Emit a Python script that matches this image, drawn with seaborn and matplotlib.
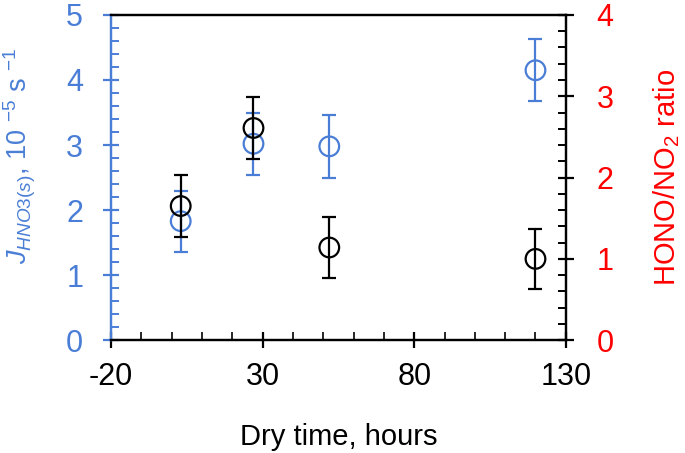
import numpy as np
import pandas as pd
import seaborn as sns
import matplotlib.pyplot as plt
from matplotlib.ticker import MultipleLocator

# datos
dry_time = [3, 27, 52, 120]
j_hno3 = [1.83, 3.02, 2.98, 4.15]
j_err = [0.47, 0.48, 0.48, 0.48]
hono_ratio = [1.65, 2.61, 1.14, 1.0]
ratio_err = [0.38, 0.38, 0.37, 0.37]

azul = "#4a7ed6"
rojo = "#ff0000"

sns.set_style("ticks")
plt.rcParams['font.family'] = ['Liberation Sans', 'DejaVu Sans']
plt.rcParams['mathtext.fontset'] = 'custom'
plt.rcParams['mathtext.rm'] = 'Liberation Sans'
plt.rcParams['mathtext.it'] = 'Liberation Sans:italic'
plt.rcParams['axes.unicode_minus'] = False
plt.rcParams['text.color'] = 'black'
plt.rcParams['axes.labelcolor'] = 'black'

df = pd.DataFrame({"t": dry_time, "j": j_hno3, "r": hono_ratio})

fig = plt.figure(figsize=(6.85, 4.53), dpi=100)
ax = fig.add_axes([0.162, 0.249, 0.664, 0.718])
ax2 = ax.twinx()

ax.errorbar(df["t"], df["j"], yerr=j_err, fmt="none", ecolor=azul, elinewidth=1.6, capsize=5, capthick=1.6)
sns.scatterplot(data=df, x="t", y="j", ax=ax, marker="o", s=200, facecolors="none", edgecolor=azul, linewidth=1.6, zorder=3)

ax2.errorbar(df["t"], df["r"], yerr=ratio_err, fmt="none", ecolor="black", elinewidth=1.6, capsize=5, capthick=1.6)
sns.scatterplot(data=df, x="t", y="r", ax=ax2, marker="o", s=200, facecolors="none", edgecolor="black", linewidth=1.6, zorder=3)

ax.set_xlim(-20, 130)
ax.set_ylim(0, 5)
ax2.set_ylim(0, 4)
ax.set_xticks([-20, 30, 80, 130])
ax.xaxis.set_minor_locator(MultipleLocator(10))
ax.set_yticks([0, 1, 2, 3, 4, 5])
ax.yaxis.set_minor_locator(MultipleLocator(0.2))
ax2.set_yticks([0, 1, 2, 3, 4])
ax2.yaxis.set_minor_locator(MultipleLocator(0.2))

for a in (ax, ax2):
    for s in a.spines.values():
        s.set_linewidth(1.6)
        s.set_color("black")
ax.spines["left"].set_color(azul)
ax2.spines["left"].set_color(azul)

ax.tick_params(axis="x", which="major", direction="inout", length=12, width=1.6, labelsize=22, pad=10, colors="black")
ax.tick_params(axis="x", which="minor", direction="in", length=6, width=1.4)
ax.tick_params(axis="y", which="major", direction="inout", length=12, width=1.6, labelsize=22, pad=14, colors=azul)
ax.tick_params(axis="y", which="minor", direction="in", length=6, width=1.4, colors=azul)
ax2.tick_params(axis="y", which="major", direction="inout", length=12, width=1.6, labelsize=22, pad=16, labelcolor=rojo, color="black")
ax2.tick_params(axis="y", which="minor", direction="in", length=6, width=1.4, color="black")

ax.set_xlabel("Dry time, hours", fontsize=21, labelpad=22)
ax.set_ylabel(r"$J_{HNO3(s)}$, 10 $^{-5}$ s $^{-1}$", fontsize=19.5, color=azul)
ax.yaxis.set_label_coords(-0.16, 0.566)
ax2.set_ylabel(r"HONO/NO$_2$ ratio", fontsize=21, color=rojo, labelpad=27)

plt.savefig("out.png", dpi=100)
